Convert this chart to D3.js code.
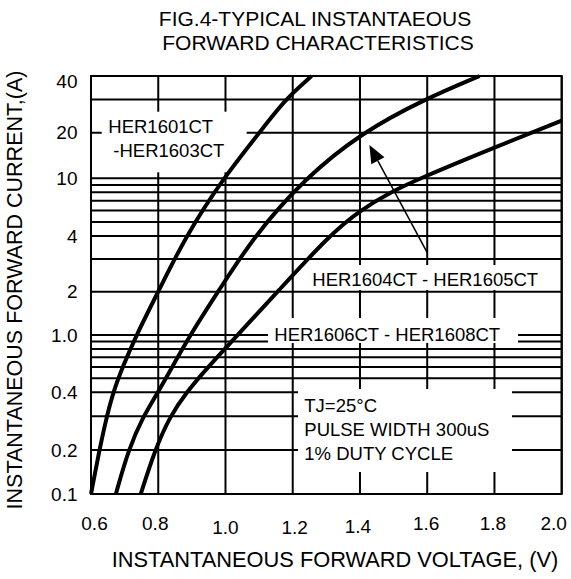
<!DOCTYPE html>
<html><head><meta charset="utf-8">
<script src="https://cdn.jsdelivr.net/npm/d3@7"></script>
<style>
html,body{margin:0;padding:0;background:#fff;}
svg text{font-family:"Liberation Sans",Arial,Helvetica,sans-serif;fill:#000;}
</style></head>
<body>
<svg id="chart" width="571" height="579"></svg>
<script>
// ---------- data ----------
const titleLines = ["FIG.4-TYPICAL INSTANTAEOUS", "FORWARD CHARACTERISTICS"];
const xTitle = "INSTANTANEOUS FORWARD VOLTAGE, (V)";
const yTitle = "INSTANTANEOUS FORWARD CURRENT,(A)";
const xTicks = [0.6, 0.8, 1.0, 1.2, 1.4, 1.6, 1.8, 2.0];
const xTickLabels = ["0.6", "0.8", "1.0", "1.2", "1.4", "1.6", "1.8", "2.0"];
const yTicks = [0.1, 0.2, 0.4, 1, 2, 4, 10, 20, 40];
const yTickLabels = ["0.1", "0.2", "0.4", "1.0", "2", "4", "10", "20", "40"];
const yGrid = [0.1,0.2,0.3,0.4,0.5,0.6,0.7,0.8,0.9,1,2,3,4,5,6,7,8,9,10,20,30,40];

// HER1601CT - HER1603CT
const v1 = [0.600,0.625,0.647,0.666,0.694,0.735,0.8,0.882,0.993,1.101,1.177,1.256];
const i1 = [0.1,0.2,0.3,0.4,0.6,1,2,4,10,20,30,40];
// HER1604CT - HER1605CT
const v2 = [0.674,0.711,0.755,0.8,0.894,0.978,1.085,1.236,1.405,1.59,1.756];
const i2 = [0.1,0.2,0.3,0.4,1,2,4,10,20,30,40];
// HER1606CT - HER1608CT
const v3 = [0.748,0.79,0.835,0.884,0.948,1.036,1.155,1.307,1.40,1.49,1.578,1.8,2.0];
const i3 = [0.1,0.2,0.3,0.4,0.6,1,2,4,6,8,10,16,23.2];

const seriesNames = ["HER1601CT", "-HER1603CT", "HER1604CT - HER1605CT", "HER1606CT - HER1608CT"];
const conditions = ["TJ=25°C", "PULSE WIDTH 300uS", "1% DUTY CYCLE"];
// arrow annotation (data coords): from label to curve 2
const arrowFrom = [1.6, 3.25];
const arrowTo = [1.428, 16.6];

// ---------- layout ----------
const L = 91, R = 561.7, T = 76, B = 494;
const svg = d3.select("#chart");
const x = d3.scaleLinear().domain([0.6, 2.0]).range([L, R]);
// log scale, piecewise through the labelled ticks of the printed grid
const y = d3.scaleLog().domain(yTicks).range([494, 450, 392.3, 335, 291.7, 236, 178.3, 132.7, 76]);

const g = svg.append("g");

// grid
g.selectAll("line.vg").data(xTicks).join("line")
  .attr("x1", d => x(d)).attr("x2", d => x(d)).attr("y1", T).attr("y2", B)
  .attr("stroke", "#000").attr("stroke-width", 2);
g.selectAll("line.hg").data(yGrid).join("line")
  .attr("x1", L).attr("x2", R).attr("y1", d => y(d)).attr("y2", d => y(d))
  .attr("stroke", "#000").attr("stroke-width", 2);

// white label backgrounds (break grid)
const boxes = [
  [101.7, 111.7, 145, 60.6],
  [305, 265, 240, 25],
  [268, 318, 250, 25],
  [298, 389, 214, 83]
];
g.selectAll("rect.bg").data(boxes).join("rect")
  .attr("x", d => d[0]).attr("y", d => d[1]).attr("width", d => d[2]).attr("height", d => d[3])
  .attr("fill", "#fff");

// frame
g.append("rect").attr("x", L).attr("y", T).attr("width", R - L).attr("height", B - T)
  .attr("fill", "none").attr("stroke", "#000").attr("stroke-width", 2);

// curves
const line = d3.line().x(d => x(d[0])).y(d => y(d[1])).curve(d3.curveBasis);
[[v1, i1], [v2, i2], [v3, i3]].forEach(([vs, is]) => {
  g.append("path").datum(vs.map((v, k) => [v, is[k]]))
    .attr("d", line).attr("fill", "none").attr("stroke", "#000")
    .attr("stroke-width", 4).attr("stroke-linecap", "butt");
});

// arrow
const ax0 = x(arrowFrom[0]), ay0 = y(arrowFrom[1]), ax1 = x(arrowTo[0]), ay1 = y(arrowTo[1]);
const ang = Math.atan2(ay1 - ay0, ax1 - ax0);
const hl = 18, hw = 7.5;
const bx = ax1 - hl * Math.cos(ang), by = ay1 - hl * Math.sin(ang);
g.append("line").attr("x1", ax0).attr("y1", ay0).attr("x2", bx).attr("y2", by)
  .attr("stroke", "#000").attr("stroke-width", 1.5);
g.append("path").attr("d",
  `M${ax1},${ay1}L${bx + hw * Math.sin(ang)},${by - hw * Math.cos(ang)}L${bx - hw * Math.sin(ang)},${by + hw * Math.cos(ang)}Z`)
  .attr("fill", "#000");

// in-plot labels
const lf = "18.5px";
g.append("text").attr("x", 108.3).attr("y", 132.7).attr("font-size", lf).text(seriesNames[0]);
g.append("text").attr("x", 113.3).attr("y", 156.7).attr("font-size", lf).text(seriesNames[1]);
g.append("text").attr("x", 312.3).attr("y", 286).attr("font-size", lf).text(seriesNames[2]);
g.append("text").attr("x", 274.3).attr("y", 340.7).attr("font-size", lf).text(seriesNames[3]);
conditions.forEach((c, k) => {
  g.append("text").attr("x", 304.3).attr("y", 411.7 + k * 24.2).attr("font-size", lf).text(c);
});

// tick labels
const xAdj = {"0.6": [3.5, 0], "0.8": [-3, 0], "1.0": [0, 4], "1.2": [2, 4], "1.4": [-2, 3], "1.6": [-1, 0], "1.8": [-1.5, 0], "2.0": [-8, 0]};
svg.selectAll("text.xt").data(xTicks).join("text")
  .attr("x", (d, k) => x(d) + xAdj[xTickLabels[k]][0])
  .attr("y", (d, k) => 529.5 + xAdj[xTickLabels[k]][1])
  .attr("text-anchor", "middle").attr("font-size", "19px")
  .text((d, k) => xTickLabels[k]);
const yAdj = {"40": 5};
svg.selectAll("text.yt").data(yTicks).join("text")
  .attr("x", 77.5)
  .attr("y", (d, k) => y(d) + 6.5 + (yAdj[yTickLabels[k]] || 0))
  .attr("text-anchor", "end").attr("font-size", "19px")
  .text((d, k) => yTickLabels[k]);

// titles
svg.append("text").attr("x", 315).attr("y", 26).attr("text-anchor", "middle")
  .attr("font-size", "21px").text(titleLines[0]);
svg.append("text").attr("x", 318).attr("y", 50).attr("text-anchor", "middle")
  .attr("font-size", "21px").text(titleLines[1]);
svg.append("text").attr("x", 335).attr("y", 566.5).attr("text-anchor", "middle")
  .attr("font-size", "21.8px").text(xTitle);
svg.append("text").attr("transform", "translate(22,290) rotate(-90)").attr("text-anchor", "middle")
  .attr("font-size", "21.5px").text(yTitle);
</script>
</body></html>
